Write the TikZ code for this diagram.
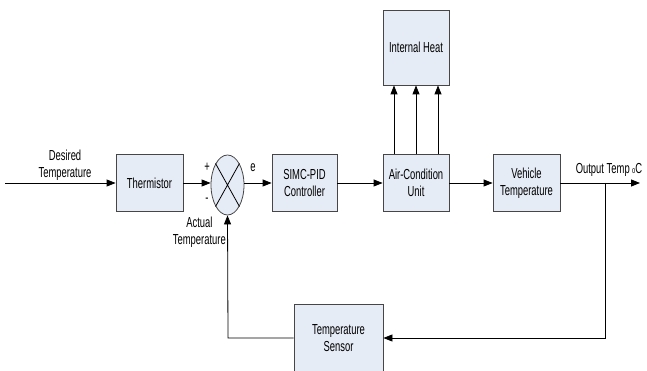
\documentclass[tikz,border=0pt]{standalone}
\usepackage{fontspec}
\setmainfont{Liberation Sans}[FakeStretch=0.65]
\usetikzlibrary{arrows.meta,shapes.geometric}
\definecolor{boxfill}{RGB}{230,236,246}
\definecolor{boxline}{RGB}{70,70,70}
\begin{document}
\begin{tikzpicture}[x=1pt,y=-1pt,
  font=\fontsize{14.5}{17}\selectfont,
  blk/.style={draw=boxline,fill=boxfill,line width=0.8pt,minimum width=#1,inner sep=0pt,align=center},
  sig/.style={line width=0.8pt,-{Triangle[length=9pt,width=7pt]}},
  wire/.style={line width=0.8pt},
  lbl/.style={inner sep=0pt,align=center}]
\useasboundingbox (0,0) rectangle (647,371);
\node[blk=67pt,minimum height=57pt] (therm) at (149.5,183) {Thermistor};
\node[draw=boxline,fill=boxfill,line width=0.8pt,ellipse,minimum width=33pt,minimum height=60pt,inner sep=0pt] (sum) at (227.5,185) {};
\draw[wire] (sum.north west) -- (sum.south east) (sum.north east) -- (sum.south west);
\node[blk=65pt,minimum height=57pt] (pid) at (304.5,183) {SIMC-PID\\Controller};
\node[blk=66pt,minimum height=57pt] (acu) at (416,183) {Air-Condition\\Unit};
\node[blk=66pt,minimum height=75pt] (heat) at (416,47.5) {Internal Heat};
\node[blk=67pt,minimum height=57pt] (veh) at (526.5,183) {Vehicle\\Temperature};
\node[blk=89pt,minimum height=68pt] (sensor) at (338.5,338) {Temperature\\Sensor};
\coordinate (in) at (5,183);
\coordinate (out) at (640,183);
\coordinate (tap) at (605,183);
\coordinate (br) at (605,338);
\coordinate (bl) at (228,338);
\draw[sig] (in) -- (therm.west);
\draw[sig] (therm.east) -- (sum.west |- therm.east);
\draw[sig] (sum.east |- pid.west) -- (pid.west);
\draw[sig] (pid.east) -- (acu.west);
\draw[sig] (acu.east) -- (veh.west);
\draw[sig] (veh.east) -- (out);
\foreach \dx in {-22,0,22}
  \draw[sig] ([xshift=\dx pt]acu.north) -- ([xshift=\dx pt]heat.south);
\draw[sig] (tap) -- (br) -- (sensor.east);
\draw[sig] (sensor.west) -- (bl) -- (sum.south);
\node[lbl] (desired) at (65,165) {Desired\\Temperature};
\node[lbl] (plus) at (207,167) {+};
\node[lbl] (minus) at (207,200) {-};
\node[lbl] (e) at (253,168) {e};
\node[lbl,anchor=east] (actual) at (226,232) {Actual\\Temperature};
\node[lbl] (outlbl) at (609,170) {Output Temp\,{\fontsize{9}{9}\selectfont o}C};
\end{tikzpicture}
\end{document}
